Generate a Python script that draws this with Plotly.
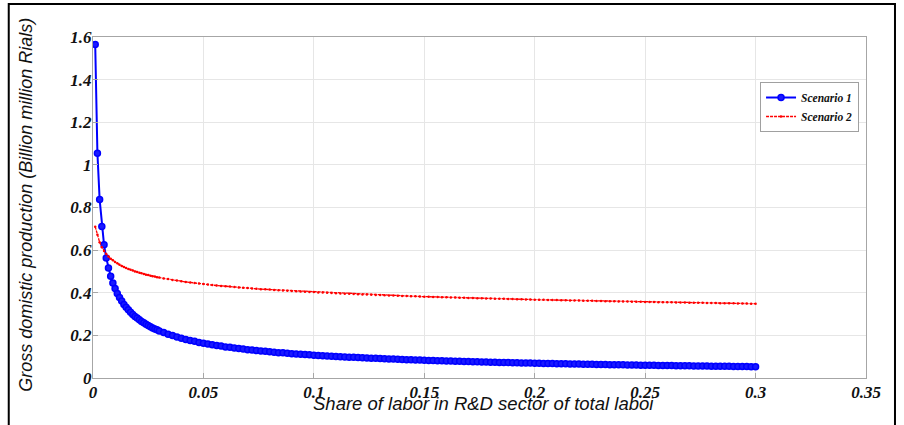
import plotly.graph_objects as go

# Share of labor in R&D sector (x)
labor_share = [
    0.001, 0.002, 0.003, 0.004, 0.005, 0.006, 0.007, 0.008, 0.009, 0.010,
    0.011, 0.012, 0.013, 0.014, 0.015, 0.016, 0.017, 0.018, 0.019, 0.020,
    0.021, 0.022, 0.023, 0.024, 0.025, 0.026, 0.027, 0.028, 0.029, 0.030,
    0.032, 0.034, 0.036, 0.038, 0.040, 0.042, 0.044, 0.046, 0.048, 0.050,
    0.052, 0.054, 0.056, 0.058, 0.060, 0.062, 0.064, 0.066, 0.068, 0.070,
    0.072, 0.074, 0.076, 0.078, 0.080, 0.082, 0.084, 0.086, 0.088, 0.090,
    0.092, 0.094, 0.096, 0.098, 0.100,
    0.102, 0.104, 0.106, 0.108, 0.110, 0.112, 0.114, 0.116, 0.118, 0.120,
    0.122, 0.124, 0.126, 0.128, 0.130, 0.132, 0.134, 0.136, 0.138, 0.140,
    0.142, 0.144, 0.146, 0.148, 0.150, 0.152, 0.154, 0.156, 0.158, 0.160,
    0.162, 0.164, 0.166, 0.168, 0.170, 0.172, 0.174, 0.176, 0.178, 0.180,
    0.182, 0.184, 0.186, 0.188, 0.190, 0.192, 0.194, 0.196, 0.198, 0.200,
    0.202, 0.204, 0.206, 0.208, 0.210, 0.212, 0.214, 0.216, 0.218, 0.220,
    0.222, 0.224, 0.226, 0.228, 0.230, 0.232, 0.234, 0.236, 0.238, 0.240,
    0.242, 0.244, 0.246, 0.248, 0.250, 0.252, 0.254, 0.256, 0.258, 0.260,
    0.262, 0.264, 0.266, 0.268, 0.270, 0.272, 0.274, 0.276, 0.278, 0.280,
    0.282, 0.284, 0.286, 0.288, 0.290, 0.292, 0.294, 0.296, 0.298, 0.300,
]

# Scenario 1: gross domestic production (blue)
gdp_scenario1 = [
    1.565, 1.055, 0.838, 0.711, 0.625, 0.563, 0.516, 0.477, 0.446, 0.420,
    0.397, 0.378, 0.361, 0.345, 0.332, 0.320, 0.309, 0.298, 0.289, 0.281,
    0.273, 0.265, 0.259, 0.252, 0.246, 0.241, 0.235, 0.230, 0.226, 0.221,
    0.213, 0.205, 0.199, 0.192, 0.187, 0.181, 0.176, 0.172, 0.167, 0.163,
    0.160, 0.156, 0.153, 0.150, 0.146, 0.144, 0.141, 0.138, 0.136, 0.133,
    0.131, 0.129, 0.127, 0.125, 0.123, 0.121, 0.119, 0.118, 0.116, 0.114,
    0.113, 0.111, 0.110, 0.109, 0.107,
    0.1060, 0.1047, 0.1035, 0.1023, 0.1011, 0.1000, 0.0989, 0.0978, 0.0968, 0.0958,
    0.0948, 0.0939, 0.0930, 0.0921, 0.0912, 0.0903, 0.0895, 0.0886, 0.0878, 0.0870,
    0.0862, 0.0855, 0.0847, 0.0840, 0.0833, 0.0826, 0.0819, 0.0813, 0.0806, 0.0800,
    0.0794, 0.0788, 0.0782, 0.0776, 0.0770, 0.0764, 0.0758, 0.0753, 0.0747, 0.0742,
    0.0737, 0.0732, 0.0727, 0.0722, 0.0717, 0.0712, 0.0707, 0.0703, 0.0698, 0.0694,
    0.0689, 0.0685, 0.0681, 0.0677, 0.0673, 0.0668, 0.0664, 0.0660, 0.0656, 0.0652,
    0.0648, 0.0645, 0.0641, 0.0637, 0.0634, 0.0630, 0.0627, 0.0623, 0.0620, 0.0616,
    0.0613, 0.0610, 0.0606, 0.0603, 0.0600, 0.0597, 0.0594, 0.0590, 0.0587, 0.0584,
    0.0581, 0.0578, 0.0576, 0.0573, 0.0570, 0.0567, 0.0564, 0.0562, 0.0559, 0.0556,
    0.0553, 0.0551, 0.0548, 0.0546, 0.0543, 0.0541, 0.0538, 0.0536, 0.0533, 0.0531,
]

# Scenario 2: gross domestic production (red)
gdp_scenario2 = [
    0.710, 0.672, 0.637, 0.614, 0.596, 0.582, 0.570, 0.560, 0.552, 0.544,
    0.538, 0.531, 0.526, 0.521, 0.516, 0.512, 0.508, 0.504, 0.500, 0.497,
    0.494, 0.491, 0.488, 0.485, 0.483, 0.480, 0.478, 0.476, 0.473, 0.471,
    0.467, 0.464, 0.460, 0.457, 0.454, 0.451, 0.448, 0.446, 0.443, 0.441,
    0.439, 0.436, 0.434, 0.432, 0.431, 0.429, 0.427, 0.425, 0.423, 0.422,
    0.420, 0.419, 0.417, 0.416, 0.415, 0.413, 0.412, 0.411, 0.409, 0.408,
    0.407, 0.406, 0.405, 0.404, 0.403,
    0.4016, 0.4006, 0.3996, 0.3986, 0.3977, 0.3968, 0.3958, 0.3949, 0.3940, 0.3931,
    0.3923, 0.3915, 0.3907, 0.3899, 0.3891, 0.3884, 0.3876, 0.3868, 0.3861, 0.3853,
    0.3846, 0.3839, 0.3832, 0.3825, 0.3818, 0.3812, 0.3805, 0.3798, 0.3792, 0.3785,
    0.3779, 0.3773, 0.3768, 0.3762, 0.3756, 0.3750, 0.3745, 0.3739, 0.3734, 0.3728,
    0.3723, 0.3718, 0.3713, 0.3708, 0.3703, 0.3697, 0.3692, 0.3687, 0.3682, 0.3677,
    0.3672, 0.3668, 0.3663, 0.3659, 0.3654, 0.3649, 0.3645, 0.3640, 0.3636, 0.3631,
    0.3627, 0.3623, 0.3619, 0.3615, 0.3611, 0.3606, 0.3602, 0.3598, 0.3594, 0.3590,
    0.3586, 0.3582, 0.3579, 0.3575, 0.3571, 0.3567, 0.3563, 0.3560, 0.3556, 0.3552,
    0.3549, 0.3545, 0.3542, 0.3538, 0.3535, 0.3532, 0.3528, 0.3525, 0.3521, 0.3518,
    0.3515, 0.3512, 0.3508, 0.3505, 0.3502, 0.3499, 0.3496, 0.3492, 0.3489, 0.3486,
]

series_names = ["Scenario 1", "Scenario 2"]
x_title = "Share of labor in R&D sector of total laboi"
y_title = "Gross domistic production (Billion million Rials)"

if not (len(labor_share) == len(gdp_scenario1) == len(gdp_scenario2)):
    raise ValueError(f"lengths {len(labor_share)} {len(gdp_scenario1)} {len(gdp_scenario2)}")

tick_font = dict(family="Liberation Serif", size=17, color="#111111",
                 weight="bold", style="italic")

fig = go.Figure()
fig.add_trace(go.Scatter(
    x=labor_share, y=gdp_scenario1, name=series_names[0],
    mode="lines+markers",
    line=dict(color="#0000FF", width=2),
    marker=dict(symbol="circle", size=6, color="#1a1aff",
                line=dict(color="#0000FF", width=1.5)),
))
fig.add_trace(go.Scatter(
    x=labor_share, y=gdp_scenario2, name=series_names[1],
    mode="lines+markers",
    line=dict(color="#FF0000", width=1.3, dash="3px,1px"),
    marker=dict(symbol="circle", size=2.5, color="#FF0000"),
))

axis_common = dict(
    showline=True, mirror=True, linecolor="#a6a6a6", linewidth=1,
    showgrid=True, gridcolor="#e6e6e6", gridwidth=1,
    zeroline=False, ticks="inside", ticklen=5, tickcolor="#a6a6a6",
    tickfont=tick_font,
)

fig.update_layout(
    width=904, height=425,
    margin=dict(l=93, r=38, t=37, b=47),
    paper_bgcolor="white", plot_bgcolor="white",
    xaxis=dict(range=[0, 0.35], dtick=0.05, tick0=0,
               ticklabelstandoff=-1, **axis_common),
    yaxis=dict(range=[0, 1.6], dtick=0.2, tick0=0,
               ticklabelstandoff=-3, **axis_common),
    showlegend=True,
    legend=dict(x=0.991, y=0.868, xanchor="right", yanchor="top",
                bgcolor="white", bordercolor="#a0a0a0", borderwidth=1,
                font=dict(family="Liberation Serif", size=11.5, color="#111111",
                          weight="bold", style="italic"),
                itemwidth=30, tracegroupgap=0),
    annotations=[
        dict(text=x_title, xref="paper", yref="paper", x=0.505, y=-0.076,
             xanchor="center", yanchor="middle", showarrow=False,
             font=dict(family="Liberation Sans", size=18.5, color="#111111",
                       style="italic")),
        dict(text=y_title, xref="paper", yref="paper", x=-0.087, y=0.507,
             xanchor="center", yanchor="middle", showarrow=False, textangle=-90,
             font=dict(family="Liberation Sans", size=18, color="#111111",
                       style="italic")),
    ],
    shapes=[
        dict(type="rect", xref="paper", yref="paper",
             x0=-0.109, x1=1.0375, y0=-0.16, y1=1.097,
             line=dict(color="black", width=2), fillcolor="rgba(0,0,0,0)",
             layer="below"),
    ],
)

fig.write_html("out.html",
               config={"displayModeBar": False},
               post_script="document.body.style.margin='0';document.body.style.overflow='hidden';")
